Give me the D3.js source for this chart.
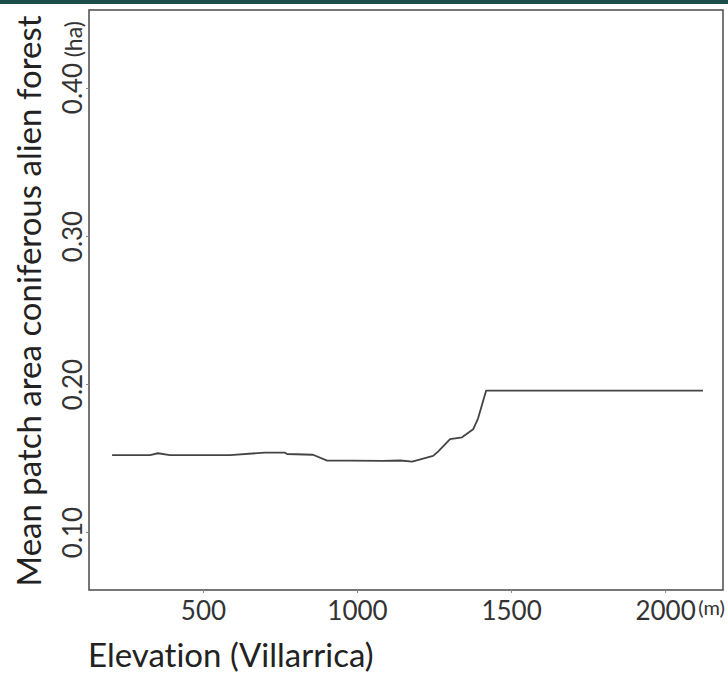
<!DOCTYPE html>
<html><head><meta charset="utf-8">
<script src="https://cdn.jsdelivr.net/npm/d3@7"></script>
<style>body{margin:0;background:#fff;}svg{display:block;} text{font-variant-ligatures:none;font-feature-settings:"liga" 0;}</style>
</head><body>
<svg id="c" width="728" height="673"></svg>
<script>
const elevation = [205, 328, 354, 393, 588, 701, 766, 773, 857, 903, 977, 1084, 1140, 1179, 1247, 1263, 1302, 1341, 1377, 1393, 1419, 2123];
const patchArea = [0.152, 0.152, 0.1532, 0.152, 0.152, 0.1536, 0.1536, 0.1527, 0.1522, 0.1482, 0.1482, 0.148, 0.1483, 0.1475, 0.1514, 0.1543, 0.1628, 0.164, 0.1694, 0.1768, 0.1955, 0.1955];
const xTicks = [500, 1000, 1500, 2000];
const yTicks = [0.10, 0.20, 0.30, 0.40];
const xTitle = "Elevation (Villarrica)";
const yTitle = "Mean patch area coniferous alien forest";
const xUnit = "(m)", yUnit = "(ha)";

const font = "Lato, 'Open Sans', sans-serif";
const svg = d3.select("#c");
svg.append("rect").attr("x",0).attr("y",0).attr("width",728).attr("height",4).attr("fill","#1b4d4a");

const L=89, R=723, T=10, B=590;
const x = d3.scaleLinear().domain([130, 2188]).range([L, R]);
const y = d3.scaleLinear().domain([0.0608, 0.4527]).range([B, T]);

svg.append("rect").attr("x",L).attr("y",T).attr("width",R-L).attr("height",B-T)
  .attr("fill","none").attr("stroke","#555").attr("stroke-width",1.6);

const xa = svg.append("g").attr("transform",`translate(0,${B})`)
  .call(d3.axisBottom(x).tickValues(xTicks).tickSize(3).tickFormat(d3.format("d")));
xa.select(".domain").remove();
xa.selectAll("line").attr("stroke","#888");
xa.selectAll("text").attr("font-family",font).attr("font-size",26).attr("fill","#333").attr("dy",null).attr("y",30);

const ya = svg.append("g").attr("transform",`translate(${L},0)`)
  .call(d3.axisLeft(y).tickValues(yTicks).tickSize(3).tickFormat(d3.format(".2f")));
ya.select(".domain").remove();
ya.selectAll("line").attr("stroke","#888");
ya.selectAll("text").attr("font-family",font).attr("font-size",26).attr("fill","#333")
  .attr("x",null).attr("dy",null).attr("text-anchor","middle")
  .attr("transform","translate(-7,0) rotate(-90)")
  .attr("y",0);

// units
const t40 = ya.selectAll("text").filter(d=>d===0.40);
const w40 = t40.node().getComputedTextLength();
svg.append("text").attr("font-family",font).attr("font-size",23).attr("fill","#333")
  .attr("text-anchor","start")
  .attr("transform",`translate(${L-7},${y(0.40)-w40/2-5}) rotate(-90)`).text(yUnit);
const t2000 = xa.selectAll("text").filter(d=>d===2000);
const w2000 = t2000.node().getComputedTextLength();
svg.append("text").attr("font-family",font).attr("font-size",20).attr("fill","#333")
  .attr("x",x(2000)+w2000/2+3).attr("y",B+25).text(xUnit);

// titles
svg.append("text").attr("font-family",font).attr("font-size",33).attr("fill","#222")
  .attr("x",L-1).attr("y",667).text(xTitle);
svg.append("text").attr("font-family",font).attr("font-size",33).attr("fill","#222")
  .attr("text-anchor","middle")
  .attr("transform",`translate(41,${(T+B)/2+1}) rotate(-90)`).text(yTitle);

const data = elevation.map((e,i)=>({e, v: patchArea[i]}));
svg.append("path").datum(data)
  .attr("d", d3.line().x(d=>x(d.e)).y(d=>y(d.v)))
  .attr("fill","none").attr("stroke","#444").attr("stroke-width",1.8).attr("stroke-linejoin","round");
</script>
</body></html>
